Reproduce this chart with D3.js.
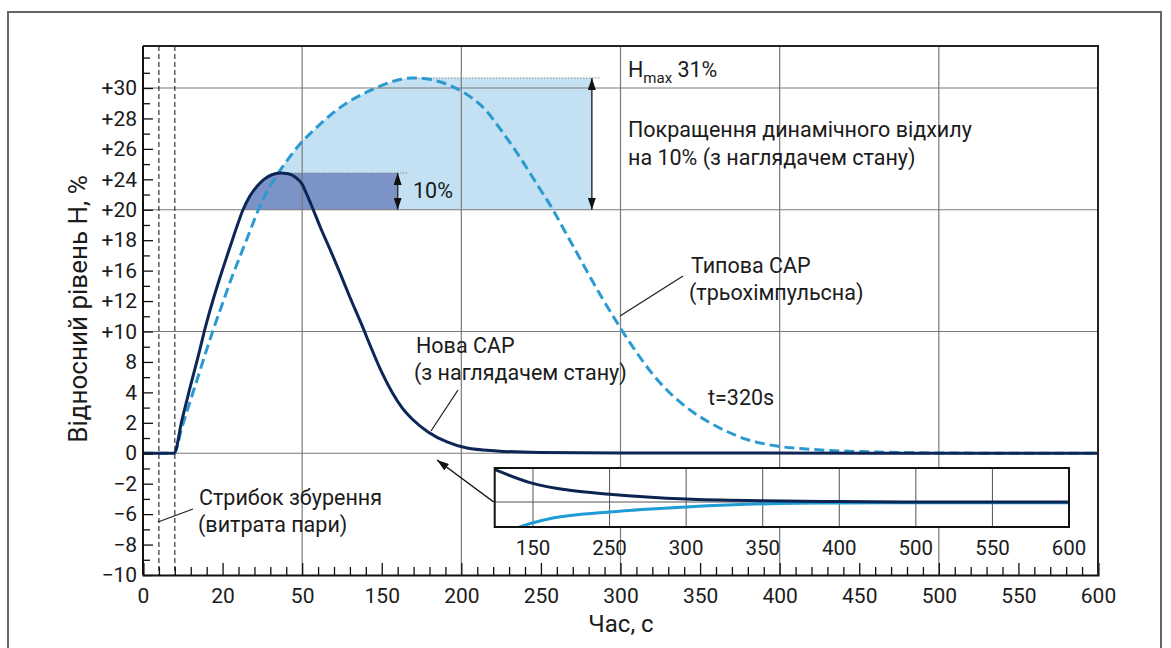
<!DOCTYPE html>
<html>
<head>
<meta charset="utf-8">
<script src="https://d3js.org/d3.v7.min.js"></script>
<style>
  body { margin: 0; background: #fff; }
  text { font-family: Roboto, "Noto Sans", sans-serif; fill: #1b1b1b; }
</style>
</head>
<body>
<div id="chart"></div>
<script>
// axis labels exactly as printed (uneven steps, drawn evenly spaced)
const xLabels = [0, 20, 50, 150, 200, 250, 300, 350, 400, 450, 500, 550, 600];
const yLabels = [-10, -8, -6, -2, 0, 2, 4, 8, 10, 12, 16, 18, 20, 24, 26, 28, 30];
const xGrid = [50, 200, 300, 400, 500];
const yGrid = [0, 10, 20, 30];
const disturbT = [4, 8];

// new controller with state observer: time (s) / level (%)
const newT = [0, 7.8, 9.8, 11.8, 13.8, 15.8, 17.8, 19.9, 22.8, 25.4, 27.7, 30.3, 33, 35.6, 38.6, 41.6, 44.7, 47.3, 49.9, 56.1, 62.4, 72.4, 85, 97.5, 110, 125.2, 137.7, 150.2, 156.4, 162.7, 169.6, 179.1, 191, 203.5, 222.4, 249.4, 300, 600];
const newH = [0, 0, 2.2, 4.6, 8.3, 10.4, 12.5, 16.0, 17.55, 18.9, 20, 21.8, 23.1, 24.0, 24.3, 24.42, 24.36, 24.15, 23.4, 21.95, 20.4, 18.9, 17.4, 15.7, 12.5, 10.4, 8.8, 6.55, 4.05, 3.0, 2.2, 1.4, 0.74, 0.34, 0.15, 0.05, 0.02, 0];

// typical three-impulse controller
const typT = [0, 7.8, 9.8, 11.8, 13.8, 15.8, 17.8, 19.85, 23.1, 26.5, 29.9, 33.5, 36.7, 40.5, 44.7, 49.2, 67.4, 88.7, 110.1, 131.5, 150.8, 160.2, 169, 176.5, 184.7, 192.9, 200.4, 206.7, 211.7, 217.4, 222.4, 227.4, 232.5, 238.1, 243.1, 250, 257.6, 263.9, 270.2, 276.4, 282.7, 289, 295.3, 300.3, 307.8, 314.1, 320.4, 326.7, 333, 339.3, 346.8, 354.3, 366.9, 379.5, 390.8, 400.2, 412.8, 431.6, 454.9, 482, 513, 600];
const typH = [0, 0, 1.72, 3.37, 6.0, 8.65, 10.23, 11.74, 14.77, 16.9, 18.41, 20, 22.33, 24.28, 25.33, 26.32, 27.37, 28.36, 29.15, 29.74, 30.2, 30.53, 30.66, 30.62, 30.46, 30.16, 29.77, 29.34, 28.92, 28.29, 27.6, 26.88, 26.12, 25.24, 24.41, 22.53, 20.0, 18.8, 17.62, 16.44, 14.5, 12.2, 11.02, 10.16, 8.98, 8.03, 6.35, 4.84, 3.76, 3.2, 2.61, 2.12, 1.43, 0.9, 0.61, 0.44, 0.31, 0.18, 0.1, 0.04, 0.01, 0];

// annotation anchors (data units)
const bigArrowT = 282, bigDotEndT = 287;
const smallArrowT = 160, smallDotEndT = 166;
const baseH = 20;

// zoomed inset
const insetLabels = [150, 250, 300, 350, 400, 500, 550, 600];
const insNewT = [99, 146, 198, 250, 300, 350, 400, 500, 600];
const insNewH = [1.35, 0.8, 0.48, 0.32, 0.12, 0.05, 0.02, 0, 0];
const insTypT = [110, 133, 176, 250, 300, 361, 400, 500, 600];
const insTypH = [-1.3, -1, -0.64, -0.4, -0.2, -0.06, -0.04, -0.03, -0.03];

const navy = "#0d2656", cyan = "#2a9ad0";

const pL = 143, pR = 1098, pT = 46, pB = 575, y30 = 88;

const svg = d3.select("#chart").append("svg")
  .attr("width", 1171).attr("height", 648);

const x = d3.scaleLinear()
  .domain(xLabels)
  .range(xLabels.map((d, i) => pL + i * (pR - pL) / (xLabels.length - 1)));
const y = d3.scaleLinear()
  .domain(yLabels)
  .range(yLabels.map((d, i) => pB - i * (pB - y30) / (yLabels.length - 1)));

const defs = svg.append("defs");
defs.append("marker").attr("id", "ah")
  .attr("viewBox", "0 0 12 8").attr("refX", 12).attr("refY", 4)
  .attr("markerWidth", 12).attr("markerHeight", 8)
  .attr("markerUnits", "userSpaceOnUse").attr("orient", "auto-start-reverse")
  .append("path").attr("d", "M0,0L12,4L0,8z").attr("fill", "#111");

// outer frame
svg.append("rect").attr("x", 8).attr("y", 12).attr("width", 1153).attr("height", 660)
  .attr("fill", "none").attr("stroke", "#666").attr("stroke-width", 2);

const line = d3.line().x(d => x(d[0])).y(d => y(d[1])).curve(d3.curveMonotoneX);
const area = d3.area().x(d => x(d[0])).y1(d => y(d[1])).y0(y(baseH)).curve(d3.curveMonotoneX);

const newData = d3.zip(newT, newH);
const typData = d3.zip(typT, typH);

// shaded overshoot regions
const typPeak = d3.greatestIndex(typH);
const typStart = typH.indexOf(baseH);
const lightData = typData.slice(typStart, typPeak + 1).concat([[bigArrowT, typH[typPeak]]]);
svg.append("path").attr("d", area(lightData)).attr("fill", "#c3e1f2");

const newPeak = d3.greatestIndex(newH);
const newStart = newH.indexOf(baseH);
const darkData = newData.slice(newStart, newPeak + 1).concat([[smallArrowT, newH[newPeak]]]);
svg.append("path").attr("d", area(darkData)).attr("fill", "#7b93c6");

// grid
svg.append("g").selectAll("line").data(xGrid).join("line")
  .attr("x1", d => x(d)).attr("x2", d => x(d)).attr("y1", pT).attr("y2", pB)
  .attr("stroke", "#7a7a7a").attr("stroke-width", 1.2);
svg.append("g").selectAll("line").data(yGrid).join("line")
  .attr("x1", pL).attr("x2", pR).attr("y1", d => y(d)).attr("y2", d => y(d))
  .attr("stroke", "#7a7a7a").attr("stroke-width", 1.2);

// dotted peak levels
svg.append("line").attr("x1", x(typT[typPeak])).attr("x2", x(bigDotEndT))
  .attr("y1", y(typH[typPeak])).attr("y2", y(typH[typPeak]))
  .attr("stroke", "#888").attr("stroke-dasharray", "1.5,1.5");
svg.append("line").attr("x1", x(newT[newPeak])).attr("x2", x(smallDotEndT))
  .attr("y1", y(newH[newPeak])).attr("y2", y(newH[newPeak]))
  .attr("stroke", "#888").attr("stroke-dasharray", "1.5,1.5");

// double arrows
svg.append("line").attr("x1", x(bigArrowT)).attr("x2", x(bigArrowT))
  .attr("y1", y(typH[typPeak])).attr("y2", y(baseH))
  .attr("stroke", "#333").attr("stroke-width", 1.5)
  .attr("marker-start", "url(#ah)").attr("marker-end", "url(#ah)");
svg.append("line").attr("x1", x(smallArrowT)).attr("x2", x(smallArrowT))
  .attr("y1", y(newH[newPeak])).attr("y2", y(baseH))
  .attr("stroke", "#333").attr("stroke-width", 1.5)
  .attr("marker-start", "url(#ah)").attr("marker-end", "url(#ah)");

// disturbance markers
svg.append("g").selectAll("line").data(disturbT).join("line")
  .attr("x1", d => x(d)).attr("x2", d => x(d)).attr("y1", pT).attr("y2", pB)
  .attr("stroke", "#222").attr("stroke-width", 1.1).attr("stroke-dasharray", "5,3");

// curves
svg.append("path").attr("d", line(typData)).attr("fill", "none")
  .attr("stroke", cyan).attr("stroke-width", 3).attr("stroke-dasharray", "10,5");
svg.append("path").attr("d", line(newData)).attr("fill", "none")
  .attr("stroke", navy).attr("stroke-width", 3);

// axes
const fmtY = d => d >= 10 ? "+" + d : d < 0 ? "\u2212" + Math.abs(d) : String(d);
const yMinor = d3.pairs(yLabels).map(p => (p[0] + p[1]) / 2).concat([31, 32]);
const xMinor = d3.pairs(xLabels).flatMap(p => d3.range(1, 5).map(k => p[0] + k * (p[1] - p[0]) / 5));

svg.append("g").attr("transform", `translate(${pL},0)`)
  .call(d3.axisLeft(y).tickValues(yMinor).tickSize(-7).tickFormat(""))
  .call(g => g.select(".domain").remove());
const gy = svg.append("g").attr("transform", `translate(${pL},0)`)
  .call(d3.axisLeft(y).tickValues(yLabels).tickSize(-10).tickPadding(6).tickFormat(fmtY));
gy.select(".domain").attr("d", `M0,${pT}V${pB}`);

svg.append("g").attr("transform", `translate(0,${pB})`)
  .call(d3.axisBottom(x).tickValues(xMinor).tickSize(-8).tickFormat(""))
  .call(g => g.select(".domain").remove());
const gx = svg.append("g").attr("transform", `translate(0,${pB})`)
  .call(d3.axisBottom(x).tickValues(xLabels).tickSize(-12).tickPadding(13));

[gx, gy].forEach(g => {
  g.select(".domain").attr("stroke", "#111").attr("stroke-width", 2);
  g.selectAll(".tick text").attr("font-size", 21).attr("fill", "#1b1b1b")
    .attr("font-family", "Roboto, 'Noto Sans', sans-serif");
});
svg.selectAll(".tick line").attr("stroke", "#111").attr("stroke-width", 1.3);

// top and right borders
svg.append("path").attr("d", `M${pL},${pT}H${pR}V${pB}`)
  .attr("fill", "none").attr("stroke", "#222").attr("stroke-width", 2);

// axis titles
svg.append("text").attr("transform", `translate(87,309) rotate(-90)`)
  .attr("text-anchor", "middle").attr("font-size", 26).text("Відносний рівень H, %");
svg.append("text").attr("x", 621).attr("y", 632)
  .attr("text-anchor", "middle").attr("font-size", 24).text("Час, с");

// inset
const xi = d3.scaleLinear()
  .domain(insetLabels)
  .range(insetLabels.map((d, i) => 533 + i * (1069 - 533) / (insetLabels.length - 1)));
const yi = d3.scaleLinear().domain([-1, 0, 1.4]).range([527, 502, 468]);
const iL = xi(100), iR = xi(600), iT = yi(1.4), iB = yi(-1);

const inset = svg.append("g");
inset.append("rect").attr("x", iL).attr("y", iT).attr("width", iR - iL).attr("height", iB - iT)
  .attr("fill", "#fff");
defs.append("clipPath").attr("id", "insclip").append("rect")
  .attr("x", iL).attr("y", iT).attr("width", iR - iL).attr("height", iB - iT);
inset.append("g").selectAll("line").data(insetLabels.slice(0, -1)).join("line")
  .attr("x1", d => xi(d)).attr("x2", d => xi(d)).attr("y1", iT).attr("y2", iB)
  .attr("stroke", "#555").attr("stroke-width", 1);
inset.append("line").attr("x1", iL).attr("x2", iR).attr("y1", yi(0)).attr("y2", yi(0))
  .attr("stroke", "#555").attr("stroke-width", 1);
const iline = d3.line().x(d => xi(d[0])).y(d => yi(d[1])).curve(d3.curveMonotoneX);
inset.append("path").attr("clip-path", "url(#insclip)").attr("d", iline(d3.zip(insTypT, insTypH)))
  .attr("fill", "none").attr("stroke", "#1f9bd6").attr("stroke-width", 3);
inset.append("path").attr("clip-path", "url(#insclip)").attr("d", iline(d3.zip(insNewT, insNewH)))
  .attr("fill", "none").attr("stroke", "#0d2450").attr("stroke-width", 3);
inset.append("rect").attr("x", iL).attr("y", iT).attr("width", iR - iL).attr("height", iB - iT)
  .attr("fill", "none").attr("stroke", "#111").attr("stroke-width", 2);
inset.append("g").selectAll("text").data(insetLabels).join("text")
  .attr("x", d => xi(d)).attr("y", 555).attr("text-anchor", "middle")
  .attr("font-size", 20.5).text(d => d);

// pointer from inset to the settling zone
svg.append("line").attr("x1", iL - 1).attr("y1", yi(0)).attr("x2", 437).attr("y2", 460)
  .attr("stroke", "#111").attr("stroke-width", 1.5).attr("marker-end", "url(#ah)");

// annotations
const ann = svg.append("g").attr("font-size", 21.5);
const hmax = ann.append("text").attr("x", 628).attr("y", 77);
hmax.append("tspan").text("H");
hmax.append("tspan").attr("font-size", 15).attr("dy", 6).text("max");
hmax.append("tspan").attr("dy", -6).text(" 31%");

ann.append("text").attr("x", 628).attr("y", 137).text("Покращення динамічного відхилу");
ann.append("text").attr("x", 628).attr("y", 165).text("на 10% (з наглядачем стану)");
ann.append("text").attr("x", 413).attr("y", 198).text("10%");

ann.append("text").attr("x", 691).attr("y", 273).text("Типова САР");
ann.append("text").attr("x", 689).attr("y", 300).text("(трьохімпульсна)");
ann.append("text").attr("x", 416).attr("y", 353).text("Нова САР");
ann.append("text").attr("x", 414).attr("y", 380).text("(з наглядачем стану)");
ann.append("text").attr("x", 708).attr("y", 405).text("t=320s");
ann.append("text").attr("x", 199).attr("y", 505).text("Стрибок збурення");
ann.append("text").attr("x", 198).attr("y", 532).text("(витрата пари)");

const leaders = [
  [620, 316, 683, 276],
  [431, 431, 458, 390],
  [158, 522, 193, 509]
];
svg.append("g").selectAll("line").data(leaders).join("line")
  .attr("x1", d => d[0]).attr("y1", d => d[1]).attr("x2", d => d[2]).attr("y2", d => d[3])
  .attr("stroke", "#222").attr("stroke-width", 1.3);
</script>
</body>
</html>
